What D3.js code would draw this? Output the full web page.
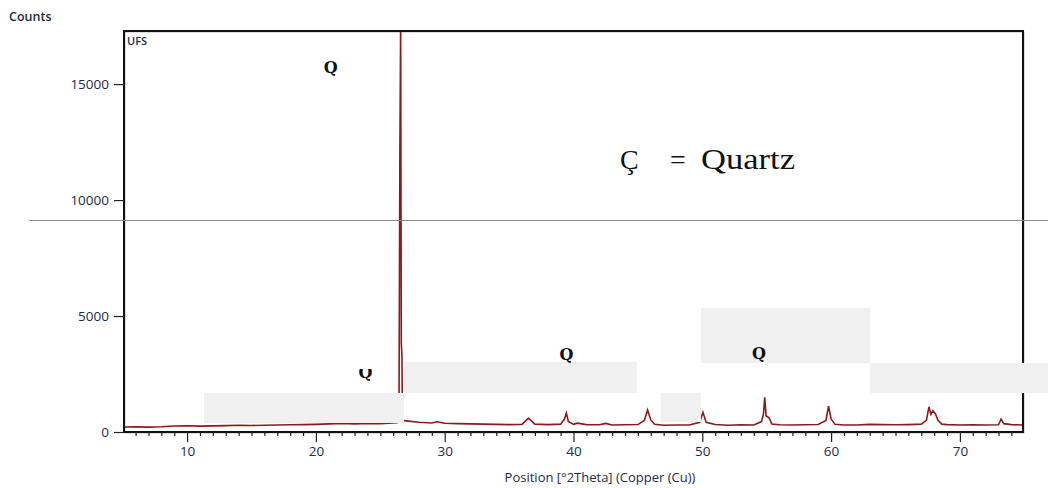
<!DOCTYPE html>
<html>
<head>
<meta charset="utf-8">
<script src="https://cdn.jsdelivr.net/npm/d3@7"></script>
<style>
  html, body { margin: 0; padding: 0; background: #fff; }
  svg { display: block; }
</style>
</head>
<body>
<div id="chart"></div>
<script>
// diffraction pattern
const positions = [
  5.1, 6, 7, 8, 9, 10, 11, 12, 13, 14, 15, 16, 17, 18, 19, 20, 21, 22, 23, 24, 25, 26, 26.3,
  26.45, 26.52, 26.58, 26.63, 26.68, 26.72, 27, 28, 29, 29.4, 30, 31, 32, 33, 34, 35, 36,
  36.5, 37, 38, 39, 39.3, 39.45, 39.6, 40, 40.3, 41, 42, 42.5, 43, 44, 45, 45.5, 45.75, 46,
  46.3, 47, 48, 49, 49.8, 50.05, 50.3, 51, 52, 53, 54, 54.6, 54.75, 54.85, 54.95, 55.2, 55.4,
  56, 57, 58, 59, 59.6, 59.8, 60, 60.3, 61, 62, 63, 64, 65, 66, 67, 67.4, 67.6, 67.75, 67.9,
  68.1, 68.3, 68.6, 69, 70, 71, 72, 73, 73.2, 73.4, 74, 74.9
];
const counts = [
  215, 220, 210, 225, 260, 270, 255, 265, 275, 290, 280, 290, 300, 310, 320, 330, 350, 370, 350, 370, 360, 390, 400,
  700, 12070, 17600, 3800, 3300, 500, 480, 420, 390, 440, 380, 360, 350, 340, 330, 320, 330,
  600, 340, 320, 340, 560, 820, 450, 330, 380, 320, 310, 370, 300, 310, 320, 500, 950, 520,
  330, 290, 300, 300, 420, 850, 420, 320, 290, 310, 300, 450, 780, 1500, 700, 600, 340,
  310, 300, 310, 320, 500, 1120, 560, 330, 300, 300, 330, 320, 310, 320, 340, 500, 1080, 760, 920,
  780, 500, 340, 320, 300, 310, 300, 310, 560, 360, 320, 300
];

const xMajorTicks = [10, 20, 30, 40, 50, 60, 70];
const xMinorTicks = d3.range(6, 75, 1);
const yTicks = [0, 5000, 10000, 15000];

// peak markers (position, counts)
const peakLabels = [
  { pos: 21.15, cnt: 15500, text: "Q" },
  { pos: 39.45, cnt: 3120, text: "Q" },
  { pos: 54.4, cnt: 3150, text: "Q" },
  { pos: 23.85, cnt: 2330, text: "Q", cut: true }
];

// light grey patches pasted over the scan
const patches = [
  [204, 393, 200, 30],
  [404, 362, 233, 31],
  [661, 393, 40, 29],
  [701, 308, 169, 55],
  [870, 363, 178, 30]
];

const W = 1048, H = 488;
const plot = { left: 124, top: 31, right: 1023, bottom: 432 };

const svg = d3.select("#chart").append("svg")
  .attr("width", W).attr("height", H);

const x = d3.scaleLinear().domain([5.1, 74.9]).range([plot.left, plot.right]);
const y = d3.scaleLinear().domain([0, 17290]).range([plot.bottom, plot.top]);

const defs = svg.append("defs");
defs.append("clipPath").attr("id", "plot-clip")
  .append("rect")
  .attr("x", plot.left).attr("y", plot.top)
  .attr("width", plot.right - plot.left).attr("height", plot.bottom - plot.top);

// clip for the half-hidden label
defs.append("clipPath").attr("id", "cut-clip")
  .append("rect")
  .attr("x", 0).attr("y", 369)
  .attr("width", W).attr("height", 40);

// frame shadow
svg.append("rect")
  .attr("x", plot.left + 1).attr("y", plot.top + 1)
  .attr("width", plot.right - plot.left).attr("height", plot.bottom - plot.top)
  .attr("fill", "none").attr("stroke", "#bbb").attr("stroke-width", 1);

// data line
const line = d3.line()
  .x((d, i) => x(positions[i]))
  .y(d => y(d));

svg.append("path")
  .datum(counts)
  .attr("clip-path", "url(#plot-clip)")
  .attr("d", line)
  .attr("fill", "none")
  .attr("stroke", "#8b1a1a")
  .attr("stroke-width", 1.6)
  .attr("stroke-linejoin", "miter");

svg.append("rect")
  .attr("x", plot.left).attr("y", plot.top)
  .attr("width", plot.right - plot.left).attr("height", plot.bottom - plot.top)
  .attr("fill", "none").attr("stroke", "#111").attr("stroke-width", 2);

// y axis
const yAxis = svg.append("g")
  .attr("transform", `translate(${plot.left},0)`)
  .call(d3.axisLeft(y).tickValues(yTicks).tickSize(10).tickPadding(5).tickFormat(d3.format("d")));
yAxis.select(".domain").remove();
yAxis.selectAll("line").attr("stroke", "#222").attr("stroke-width", 1.2);
yAxis.selectAll("text")
  .attr("fill", "#1e2a44")
  .style("font-family", "'Open Sans', sans-serif")
  .style("font-size", "13.5px");

// x axis: minor then major
const xMinor = svg.append("g")
  .attr("transform", `translate(0,${plot.bottom})`)
  .call(d3.axisBottom(x).tickValues(xMinorTicks.filter(v => v % 10 !== 0)).tickSize(4).tickFormat(""));
xMinor.select(".domain").remove();
xMinor.selectAll("line").attr("stroke", "#222").attr("stroke-width", 1.2);

const xAxis = svg.append("g")
  .attr("transform", `translate(0,${plot.bottom})`)
  .call(d3.axisBottom(x).tickValues(xMajorTicks).tickSize(10).tickPadding(4).tickFormat(d3.format("d")));
xAxis.select(".domain").remove();
xAxis.selectAll("line").attr("stroke", "#222").attr("stroke-width", 1.2);
xAxis.selectAll("text")
  .attr("fill", "#1e2a44")
  .style("font-family", "'Open Sans', sans-serif")
  .style("font-size", "13.5px");

// texts
svg.append("text")
  .attr("x", 9).attr("y", 21)
  .attr("fill", "#1e2a44")
  .style("font-family", "'Open Sans', sans-serif")
  .style("font-size", "12.5px").style("font-weight", 600)
  .text("Counts");

svg.append("text")
  .attr("x", 127).attr("y", 45)
  .attr("fill", "#1e2a54")
  .style("font-family", "'Open Sans', sans-serif")
  .style("font-size", "11px").style("font-weight", 600)
  .text("UFS");

svg.append("text")
  .attr("x", 600).attr("y", 482)
  .attr("text-anchor", "middle")
  .attr("fill", "#1e2a44")
  .style("font-family", "'Open Sans', sans-serif")
  .style("font-size", "13px")
  .text("Position [°2Theta] (Copper (Cu))");

// legend
svg.append("text")
  .attr("x", 620).attr("y", 169)
  .attr("fill", "#111")
  .style("font-family", "'Liberation Serif', serif")
  .style("font-size", "28px")
  .text("Ç");
svg.append("text")
  .attr("x", 670).attr("y", 169)
  .attr("fill", "#111")
  .style("font-family", "'Liberation Serif', serif")
  .style("font-size", "28px")
  .text("=");
svg.append("text")
  .attr("x", 701).attr("y", 169)
  .attr("textLength", 94).attr("lengthAdjust", "spacingAndGlyphs")
  .attr("fill", "#111")
  .style("font-family", "'Liberation Serif', serif")
  .style("font-size", "29px")
  .text("Quartz");

// grey rule across the page
svg.append("line")
  .attr("x1", 29).attr("x2", W)
  .attr("y1", 220.5).attr("y2", 220.5)
  .attr("stroke", "#8a8a8a").attr("stroke-width", 1.2);

// patches over the scan
svg.selectAll(".patch")
  .data(patches)
  .join("rect")
  .attr("class", "patch")
  .attr("x", d => d[0]).attr("y", d => d[1])
  .attr("width", d => d[2]).attr("height", d => d[3])
  .attr("fill", "#f0f0f0");

// peak labels sit above the patches
svg.selectAll(".peak-label")
  .data(peakLabels)
  .join("text")
  .attr("class", "peak-label")
  .attr("x", d => x(d.pos))
  .attr("y", d => y(d.cnt))
  .attr("text-anchor", "middle")
  .attr("clip-path", d => d.cut ? "url(#cut-clip)" : null)
  .attr("fill", "#111")
  .style("font-family", "'DejaVu Serif', serif")
  .style("font-size", "16px").style("font-weight", "bold")
  .text(d => d.text);
</script>
</body>
</html>
